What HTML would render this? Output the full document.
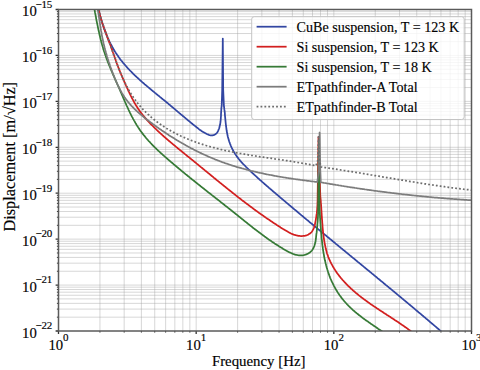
<!DOCTYPE html>
<html><head><meta charset="utf-8"><style>
html,body{margin:0;padding:0;background:#fff;width:480px;height:370px;overflow:hidden;}
svg{display:block;font-family:"Liberation Serif",serif;}
text{fill:#000;stroke:#000;stroke-width:0.15px;}
</style></head><body>
<svg width="480" height="370" viewBox="0 0 480 370">
<rect width="480" height="370" fill="#fff"/>
<path d="M58.50,317.17 H471.50 M58.50,309.09 H471.50 M58.50,303.35 H471.50 M58.50,298.90 H471.50 M58.50,295.26 H471.50 M58.50,292.19 H471.50 M58.50,289.52 H471.50 M58.50,287.17 H471.50 M58.50,285.07 H471.50 M58.50,271.25 H471.50 M58.50,263.16 H471.50 M58.50,257.42 H471.50 M58.50,252.97 H471.50 M58.50,249.33 H471.50 M58.50,246.26 H471.50 M58.50,243.59 H471.50 M58.50,241.24 H471.50 M58.50,239.14 H471.50 M58.50,225.32 H471.50 M58.50,217.23 H471.50 M58.50,211.49 H471.50 M58.50,207.04 H471.50 M58.50,203.40 H471.50 M58.50,200.33 H471.50 M58.50,197.67 H471.50 M58.50,195.32 H471.50 M58.50,193.21 H471.50 M58.50,179.39 H471.50 M58.50,171.30 H471.50 M58.50,165.56 H471.50 M58.50,161.11 H471.50 M58.50,157.47 H471.50 M58.50,154.40 H471.50 M58.50,151.74 H471.50 M58.50,149.39 H471.50 M58.50,147.29 H471.50 M58.50,133.46 H471.50 M58.50,125.37 H471.50 M58.50,119.63 H471.50 M58.50,115.18 H471.50 M58.50,111.55 H471.50 M58.50,108.47 H471.50 M58.50,105.81 H471.50 M58.50,103.46 H471.50 M58.50,101.36 H471.50 M58.50,87.53 H471.50 M58.50,79.44 H471.50 M58.50,73.71 H471.50 M58.50,69.25 H471.50 M58.50,65.62 H471.50 M58.50,62.54 H471.50 M58.50,59.88 H471.50 M58.50,57.53 H471.50 M58.50,55.43 H471.50 M58.50,41.60 H471.50 M58.50,33.52 H471.50 M58.50,27.78 H471.50 M58.50,23.33 H471.50 M58.50,19.69 H471.50 M58.50,16.61 H471.50 M58.50,13.95 H471.50 M58.50,11.60 H471.50" stroke="#a0a0a0" stroke-opacity="0.42" stroke-width="1" fill="none"/>
<path d="M99.94,9.50 V331.00 M124.18,9.50 V331.00 M141.38,9.50 V331.00 M154.72,9.50 V331.00 M165.63,9.50 V331.00 M174.84,9.50 V331.00 M182.83,9.50 V331.00 M189.87,9.50 V331.00 M196.17,9.50 V331.00 M237.61,9.50 V331.00 M261.85,9.50 V331.00 M279.05,9.50 V331.00 M292.39,9.50 V331.00 M303.29,9.50 V331.00 M312.51,9.50 V331.00 M320.49,9.50 V331.00 M327.53,9.50 V331.00 M333.83,9.50 V331.00 M375.28,9.50 V331.00 M399.52,9.50 V331.00 M416.72,9.50 V331.00 M430.06,9.50 V331.00 M440.96,9.50 V331.00 M450.18,9.50 V331.00 M458.16,9.50 V331.00 M465.20,9.50 V331.00" stroke="#a0a0a0" stroke-opacity="0.42" stroke-width="1" fill="none"/>
<defs><clipPath id="c"><rect x="58.50" y="9.50" width="413.00" height="321.50"/></clipPath></defs>
<g clip-path="url(#c)">
<path d="M98.5,9.5 98.7,10.4 99.0,11.4 99.2,12.4 99.5,13.3 99.7,14.3 100.0,15.2 100.2,16.2 100.5,17.2 100.8,18.1 101.1,19.1 101.4,20.1 101.7,21.0 102.0,22.0 102.3,23.0 102.6,23.9 102.9,24.9 103.2,25.8 103.5,26.8 103.9,27.8 104.2,28.7 104.5,29.7 104.9,30.6 105.3,31.6 105.6,32.5 106.0,33.4 106.4,34.4 106.8,35.3 107.1,36.3 107.5,37.2 107.9,38.1 108.4,39.0 108.8,40.0 109.2,40.9 109.6,41.8 110.1,42.7 110.5,43.6 111.0,44.5 111.5,45.4 111.9,46.3 112.4,47.1 112.9,48.0 113.4,48.9 113.9,49.8 114.4,50.6 114.9,51.5 115.5,52.3 116.0,53.2 116.6,54.0 117.1,54.8 117.7,55.6 118.3,56.5 118.8,57.3 119.4,58.1 120.0,58.9 120.6,59.7 121.2,60.5 121.9,61.2 122.5,62.0 123.1,62.8 123.8,63.6 124.4,64.3 125.1,65.1 125.7,65.8 126.4,66.6 127.1,67.3 127.7,68.1 128.4,68.8 129.1,69.5 129.8,70.3 130.5,71.0 131.2,71.7 131.9,72.4 132.6,73.1 133.3,73.9 134.1,74.6 134.8,75.3 135.5,76.0 136.2,76.6 137.0,77.3 137.7,78.0 138.5,78.7 139.2,79.4 140.0,80.1 140.7,80.8 141.5,81.4 142.2,82.1 143.0,82.8 143.8,83.4 144.5,84.1 145.3,84.8 146.1,85.4 146.9,86.1 147.6,86.7 148.4,87.4 149.2,88.0 150.0,88.7 150.8,89.3 151.5,90.0 152.3,90.6 153.1,91.3 153.9,91.9 154.7,92.6 155.5,93.2 156.2,93.9 157.0,94.5 157.8,95.1 158.6,95.8 159.4,96.4 160.2,97.1 161.0,97.7 161.7,98.3 162.5,99.0 163.3,99.6 164.1,100.2 164.9,100.9 165.6,101.5 166.4,102.2 167.2,102.8 168.0,103.4 168.7,104.1 169.5,104.7 170.3,105.4 171.0,106.0 171.8,106.6 172.5,107.3 173.3,107.9 174.1,108.6 174.8,109.2 175.6,109.9 176.4,110.5 177.1,111.1 177.9,111.8 178.6,112.4 179.4,113.1 180.2,113.7 180.9,114.4 181.7,115.0 182.5,115.6 183.2,116.3 184.0,116.9 184.8,117.6 185.5,118.2 186.3,118.9 187.1,119.5 187.8,120.1 188.6,120.8 189.4,121.4 190.2,122.1 190.9,122.7 191.7,123.3 192.5,124.0 193.3,124.6 194.1,125.3 194.9,125.9 195.7,126.5 196.5,127.2 197.3,127.8 198.1,128.4 198.9,129.1 199.7,129.7 200.6,130.3 201.4,130.9 202.3,131.4 203.2,132.0 204.1,132.5 205.0,133.0 205.9,133.5 206.8,134.0 207.8,134.4 208.7,134.8 209.7,135.1 210.6,135.3 211.6,135.4 212.5,135.4 213.3,135.2 214.2,135.0 214.9,134.6 215.7,134.1 216.3,133.5 217.0,132.8 217.5,132.0 218.0,131.1 218.4,130.2 218.8,129.2 219.2,128.2 219.5,127.1 219.7,126.1 220.0,125.1 220.2,124.1 220.3,123.1 220.5,122.0 220.6,121.0 220.7,120.0 220.8,119.0 220.8,118.0 220.9,117.0 221.0,116.0 221.0,115.0 221.0,114.0 221.1,113.0 221.1,112.0 221.2,111.0 221.3,110.0 221.3,109.0 221.4,108.0 221.5,107.0 221.7,106.1 222.2,90.0 222.8,38.6 223.2,90.0 223.9,106.0 224.1,107.0 224.2,108.0 224.3,108.9 224.4,109.9 224.6,110.9 224.7,111.9 224.8,112.9 224.9,113.9 224.9,114.9 225.0,115.9 225.1,116.9 225.2,117.9 225.3,118.9 225.4,119.9 225.5,120.9 225.6,122.0 225.7,123.0 225.8,124.0 225.9,125.0 226.0,126.0 226.2,127.0 226.3,128.0 226.4,129.0 226.6,130.0 226.7,131.0 226.9,132.0 227.1,133.0 227.3,134.0 227.5,135.0 227.7,136.0 227.9,137.0 228.2,137.9 228.5,138.9 228.7,139.9 229.0,140.8 229.3,141.8 229.7,142.7 230.0,143.6 230.4,144.6 230.7,145.5 231.1,146.4 231.5,147.3 231.9,148.2 232.4,149.1 232.8,150.0 233.3,150.8 233.8,151.7 234.3,152.5 234.8,153.4 235.3,154.2 235.9,155.0 236.4,155.8 237.0,156.6 237.6,157.4 238.2,158.2 238.8,159.0 239.5,159.8 240.1,160.6 240.8,161.3 241.4,162.1 242.1,162.8 242.8,163.6 243.5,164.3 244.2,165.0 244.9,165.7 245.6,166.5 246.3,167.2 247.0,167.9 247.8,168.6 248.5,169.3 249.2,170.0 250.0,170.7 250.7,171.4 251.4,172.1 252.2,172.8 252.9,173.5 253.7,174.2 254.4,174.9 255.2,175.5 255.9,176.2 256.7,176.9 257.4,177.6 258.1,178.3 258.9,178.9 259.6,179.6 260.4,180.3 261.2,180.9 261.9,181.6 262.7,182.3 263.4,182.9 264.2,183.6 264.9,184.3 265.7,184.9 266.4,185.6 267.2,186.2 268.0,186.9 268.7,187.6 269.5,188.2 270.2,188.9 271.0,189.5 271.8,190.2 272.5,190.8 273.3,191.5 274.0,192.1 274.8,192.8 275.6,193.4 276.3,194.1 277.1,194.7 277.9,195.4 278.6,196.0 279.4,196.7 280.1,197.3 280.9,198.0 281.7,198.6 282.4,199.3 283.2,199.9 284.0,200.6 284.7,201.2 285.5,201.9 286.3,202.5 287.0,203.1 287.8,203.8 288.6,204.4 289.3,205.1 290.1,205.7 290.9,206.4 291.6,207.0 292.4,207.7 293.2,208.3 293.9,209.0 294.7,209.6 295.5,210.2 296.3,210.9 297.0,211.5 297.8,212.2 298.6,212.8 299.3,213.5 300.1,214.1 300.9,214.8 301.6,215.4 302.4,216.0 303.2,216.7 303.9,217.3 304.7,218.0 305.5,218.6 306.3,219.3 307.0,219.9 307.8,220.5 308.6,221.2 309.3,221.8 310.1,222.5 310.9,223.1 311.7,223.7 312.4,224.4 313.2,225.0 314.0,225.7 314.8,226.3 315.5,226.9 316.3,227.6 317.1,228.2 317.8,228.9 318.6,229.5 319.4,230.2 320.2,230.8 320.9,231.4 321.7,232.1 322.5,232.7 323.3,233.4 324.0,234.0 324.8,234.6 325.6,235.3 326.4,235.9 327.1,236.6 327.9,237.2 328.7,237.8 329.5,238.5 330.2,239.1 331.0,239.7 331.8,240.4 332.5,241.0 333.3,241.7 334.1,242.3 334.9,242.9 335.6,243.6 336.4,244.2 337.2,244.9 338.0,245.5 338.7,246.1 339.5,246.8 340.3,247.4 341.1,248.1 341.9,248.7 342.6,249.3 343.4,250.0 344.2,250.6 345.0,251.2 345.7,251.9 346.5,252.5 347.3,253.2 348.1,253.8 348.8,254.4 349.6,255.1 350.4,255.7 351.2,256.4 351.9,257.0 352.7,257.6 353.5,258.3 354.3,258.9 355.0,259.5 355.8,260.2 356.6,260.8 357.4,261.5 358.1,262.1 358.9,262.7 359.7,263.4 360.5,264.0 361.2,264.6 362.0,265.3 362.8,265.9 363.6,266.6 364.3,267.2 365.1,267.8 365.9,268.5 366.7,269.1 367.4,269.8 368.2,270.4 369.0,271.0 369.8,271.7 370.6,272.3 371.3,272.9 372.1,273.6 372.9,274.2 373.7,274.9 374.4,275.5 375.2,276.1 376.0,276.8 376.8,277.4 377.5,278.1 378.3,278.7 379.1,279.3 379.9,280.0 380.6,280.6 381.4,281.3 382.2,281.9 383.0,282.5 383.7,283.2 384.5,283.8 385.3,284.5 386.0,285.1 386.8,285.7 387.6,286.4 388.4,287.0 389.1,287.7 389.9,288.3 390.7,288.9 391.5,289.6 392.2,290.2 393.0,290.9 393.8,291.5 394.6,292.2 395.3,292.8 396.1,293.4 396.9,294.1 397.6,294.7 398.4,295.4 399.2,296.0 400.0,296.6 400.7,297.3 401.5,297.9 402.3,298.6 403.1,299.2 403.8,299.9 404.6,300.5 405.4,301.1 406.1,301.8 406.9,302.4 407.7,303.1 408.4,303.7 409.2,304.4 410.0,305.0 410.8,305.7 411.5,306.3 412.3,306.9 413.1,307.6 413.8,308.2 414.6,308.9 415.4,309.5 416.1,310.2 416.9,310.8 417.7,311.5 418.4,312.1 419.2,312.8 420.0,313.4 420.8,314.0 421.5,314.7 422.3,315.3 423.1,316.0 423.8,316.6 424.6,317.3 425.4,317.9 426.1,318.6 426.9,319.2 427.7,319.9 428.4,320.5 429.2,321.2 429.9,321.8 430.7,322.5 431.5,323.1 432.2,323.8 433.0,324.4 433.8,325.1 434.5,325.7 435.3,326.4 436.1,327.0 436.8,327.7 437.6,328.3 438.4,329.0 439.1,329.6 439.9,330.3 440.6,330.9 441.4,331.6 442.2,332.3 442.9,332.9 443.7,333.6 444.4,334.2 445.2,334.9 446.0,335.5" fill="none" stroke="#3246a2" stroke-width="1.75" stroke-linejoin="round" />
<path d="M98.7,9.4 98.9,10.4 99.1,11.4 99.3,12.4 99.6,13.4 99.8,14.4 100.0,15.3 100.3,16.3 100.6,17.3 100.8,18.3 101.1,19.2 101.4,20.2 101.7,21.1 102.0,22.1 102.3,23.0 102.6,24.0 102.9,24.9 103.3,25.9 103.6,26.8 103.9,27.8 104.2,28.7 104.6,29.7 104.9,30.6 105.3,31.6 105.6,32.5 106.0,33.4 106.3,34.4 106.7,35.3 107.0,36.2 107.4,37.2 107.7,38.1 108.1,39.1 108.4,40.0 108.8,40.9 109.1,41.9 109.5,42.8 109.9,43.7 110.2,44.7 110.6,45.6 110.9,46.6 111.2,47.5 111.6,48.4 111.9,49.4 112.3,50.3 112.6,51.3 112.9,52.2 113.3,53.2 113.6,54.1 113.9,55.1 114.3,56.0 114.6,57.0 114.9,57.9 115.3,58.9 115.6,59.8 115.9,60.8 116.3,61.7 116.6,62.7 116.9,63.6 117.3,64.6 117.6,65.5 118.0,66.4 118.3,67.4 118.7,68.3 119.1,69.2 119.4,70.2 119.8,71.1 120.2,72.0 120.5,72.9 120.9,73.8 121.3,74.8 121.7,75.7 122.1,76.6 122.5,77.5 122.9,78.4 123.3,79.4 123.7,80.3 124.1,81.2 124.5,82.1 124.9,83.0 125.3,83.9 125.7,84.8 126.1,85.8 126.5,86.7 126.9,87.6 127.4,88.5 127.8,89.4 128.2,90.4 128.6,91.3 129.1,92.2 129.5,93.1 129.9,94.0 130.4,94.9 130.8,95.8 131.3,96.7 131.7,97.6 132.2,98.5 132.7,99.4 133.2,100.3 133.6,101.2 134.1,102.1 134.6,103.0 135.1,103.8 135.6,104.7 136.1,105.6 136.7,106.4 137.2,107.3 137.7,108.1 138.3,108.9 138.9,109.8 139.4,110.6 140.0,111.4 140.6,112.2 141.2,113.0 141.8,113.8 142.4,114.6 143.0,115.4 143.7,116.1 144.3,116.9 145.0,117.7 145.6,118.4 146.3,119.2 146.9,119.9 147.6,120.7 148.3,121.4 149.0,122.1 149.7,122.8 150.3,123.6 151.0,124.3 151.7,125.0 152.5,125.7 153.2,126.4 153.9,127.1 154.6,127.8 155.3,128.5 156.0,129.2 156.7,129.9 157.5,130.6 158.2,131.3 158.9,132.0 159.7,132.6 160.4,133.3 161.2,134.0 161.9,134.7 162.6,135.3 163.4,136.0 164.1,136.7 164.9,137.3 165.6,138.0 166.4,138.7 167.2,139.3 167.9,140.0 168.7,140.6 169.4,141.3 170.2,141.9 171.0,142.6 171.7,143.2 172.5,143.9 173.3,144.5 174.1,145.2 174.8,145.8 175.6,146.4 176.4,147.1 177.2,147.7 177.9,148.4 178.7,149.0 179.5,149.6 180.3,150.3 181.1,150.9 181.8,151.5 182.6,152.2 183.4,152.8 184.2,153.4 185.0,154.1 185.8,154.7 186.5,155.3 187.3,156.0 188.1,156.6 188.9,157.2 189.7,157.9 190.4,158.5 191.2,159.1 192.0,159.8 192.8,160.4 193.6,161.0 194.3,161.7 195.1,162.3 195.9,162.9 196.7,163.6 197.5,164.2 198.2,164.8 199.0,165.5 199.8,166.1 200.6,166.8 201.3,167.4 202.1,168.0 202.9,168.7 203.7,169.3 204.4,169.9 205.2,170.6 206.0,171.2 206.8,171.8 207.5,172.5 208.3,173.1 209.1,173.7 209.9,174.4 210.6,175.0 211.4,175.7 212.2,176.3 213.0,176.9 213.7,177.6 214.5,178.2 215.3,178.8 216.1,179.5 216.8,180.1 217.6,180.7 218.4,181.4 219.2,182.0 219.9,182.6 220.7,183.2 221.5,183.9 222.3,184.5 223.1,185.1 223.8,185.8 224.6,186.4 225.4,187.0 226.2,187.7 227.0,188.3 227.7,188.9 228.5,189.5 229.3,190.2 230.1,190.8 230.9,191.4 231.7,192.0 232.4,192.7 233.2,193.3 234.0,193.9 234.8,194.5 235.6,195.1 236.4,195.8 237.2,196.4 237.9,197.0 238.7,197.6 239.5,198.2 240.3,198.8 241.1,199.4 241.9,200.1 242.7,200.7 243.5,201.3 244.3,201.9 245.1,202.5 245.9,203.1 246.7,203.7 247.5,204.3 248.3,204.9 249.1,205.5 249.9,206.1 250.7,206.7 251.5,207.3 252.3,207.9 253.1,208.5 253.9,209.1 254.7,209.7 255.5,210.3 256.4,210.9 257.2,211.5 258.0,212.1 258.8,212.7 259.6,213.2 260.4,213.8 261.3,214.4 262.1,215.0 262.9,215.6 263.7,216.1 264.5,216.7 265.4,217.3 266.2,217.9 267.0,218.4 267.9,219.0 268.7,219.6 269.5,220.1 270.4,220.7 271.2,221.3 272.0,221.8 272.9,222.4 273.7,223.0 274.6,223.5 275.4,224.1 276.3,224.6 277.1,225.2 278.0,225.7 278.8,226.3 279.7,226.8 280.5,227.4 281.4,227.9 282.3,228.5 283.1,229.0 284.0,229.5 284.8,230.1 285.7,230.6 286.6,231.1 287.5,231.6 288.3,232.1 289.2,232.6 290.1,233.0 291.0,233.5 291.9,233.9 292.8,234.2 293.7,234.6 294.7,234.9 295.6,235.2 296.5,235.4 297.5,235.6 298.5,235.8 299.4,235.9 300.4,236.0 301.4,236.0 302.4,236.0 303.4,235.9 304.4,235.8 305.4,235.6 306.4,235.3 307.4,235.0 308.3,234.6 309.1,234.1 310.0,233.6 310.7,232.9 311.4,232.3 312.0,231.5 312.5,230.7 313.0,229.8 313.5,228.9 313.9,228.0 314.2,227.0 314.5,226.0 314.8,225.0 315.0,223.9 315.2,222.9 315.4,221.8 315.6,220.8 315.8,219.8 315.9,218.8 316.1,217.8 316.3,216.8 316.4,215.8 316.5,214.9 316.7,213.9 316.8,213.0 316.9,212.0 317.0,211.0 317.1,210.1 317.2,209.1 317.2,208.2 317.3,207.2 317.4,206.2 317.4,205.2 317.5,204.2 317.5,203.1 317.5,202.1 317.6,201.0 317.6,199.9 318.0,170.0 318.5,136.9 319.4,170.0 320.3,196.0 320.4,197.0 320.5,198.0 320.6,199.0 320.7,200.0 320.8,201.0 320.8,202.0 320.9,203.0 321.0,204.0 321.1,205.1 321.1,206.1 321.2,207.1 321.3,208.1 321.3,209.1 321.4,210.1 321.5,211.1 321.5,212.1 321.6,213.1 321.7,214.1 321.7,215.1 321.8,216.1 321.9,217.1 321.9,218.2 322.0,219.2 322.1,220.2 322.2,221.2 322.2,222.2 322.3,223.2 322.4,224.2 322.5,225.2 322.5,226.2 322.6,227.2 322.7,228.3 322.8,229.3 322.9,230.3 323.0,231.3 323.1,232.3 323.2,233.3 323.4,234.3 323.5,235.3 323.6,236.3 323.7,237.3 323.9,238.3 324.0,239.3 324.2,240.3 324.3,241.3 324.5,242.3 324.7,243.3 324.9,244.3 325.1,245.3 325.3,246.3 325.5,247.3 325.7,248.3 326.0,249.3 326.2,250.3 326.5,251.2 326.7,252.2 327.0,253.2 327.3,254.1 327.7,255.1 328.0,256.0 328.3,257.0 328.7,257.9 329.1,258.9 329.5,259.8 329.9,260.7 330.3,261.6 330.8,262.5 331.2,263.4 331.7,264.3 332.2,265.2 332.7,266.1 333.2,267.0 333.7,267.8 334.2,268.7 334.8,269.6 335.3,270.4 335.9,271.2 336.4,272.1 337.0,272.9 337.6,273.7 338.2,274.5 338.8,275.3 339.4,276.1 340.1,276.9 340.7,277.7 341.3,278.5 342.0,279.2 342.6,280.0 343.3,280.7 344.0,281.5 344.6,282.2 345.3,282.9 346.0,283.7 346.7,284.4 347.4,285.1 348.1,285.8 348.8,286.5 349.6,287.2 350.3,287.9 351.0,288.6 351.8,289.2 352.5,289.9 353.2,290.6 354.0,291.2 354.8,291.9 355.5,292.6 356.3,293.2 357.1,293.8 357.9,294.5 358.6,295.1 359.4,295.7 360.2,296.4 361.0,297.0 361.8,297.6 362.6,298.2 363.4,298.8 364.2,299.4 365.1,300.0 365.9,300.6 366.7,301.2 367.5,301.8 368.4,302.4 369.2,303.0 370.0,303.6 370.8,304.2 371.7,304.8 372.5,305.3 373.4,305.9 374.2,306.5 375.1,307.0 375.9,307.6 376.8,308.2 377.6,308.7 378.5,309.3 379.3,309.9 380.2,310.4 381.0,311.0 381.9,311.6 382.7,312.1 383.6,312.7 384.4,313.2 385.3,313.8 386.1,314.3 387.0,314.9 387.9,315.4 388.7,316.0 389.6,316.6 390.4,317.1 391.3,317.7 392.1,318.2 393.0,318.8 393.8,319.3 394.7,319.9 395.5,320.4 396.4,321.0 397.2,321.6 398.0,322.1 398.9,322.7 399.7,323.3 400.5,323.8 401.4,324.4 402.2,325.0 403.0,325.5 403.9,326.1 404.7,326.7 405.5,327.3 406.3,327.8 407.1,328.4 407.9,329.0 408.7,329.6 409.5,330.2 410.3,330.8 411.1,331.4 411.9,332.0 412.7,332.6 413.4,333.2 414.2,333.8 415.0,334.4 415.8,335.0" fill="none" stroke="#d21f1f" stroke-width="1.75" stroke-linejoin="round" />
<path d="M94.5,9.5 94.7,10.5 94.9,11.5 95.0,12.4 95.2,13.4 95.4,14.4 95.6,15.4 95.8,16.4 96.0,17.3 96.1,18.3 96.3,19.3 96.5,20.3 96.7,21.3 96.9,22.3 97.1,23.2 97.3,24.2 97.5,25.2 97.7,26.2 97.9,27.2 98.1,28.2 98.3,29.2 98.5,30.1 98.7,31.1 99.0,32.1 99.2,33.1 99.4,34.1 99.6,35.1 99.9,36.0 100.1,37.0 100.3,38.0 100.6,39.0 100.8,40.0 101.1,40.9 101.3,41.9 101.6,42.9 101.9,43.9 102.1,44.8 102.4,45.8 102.7,46.8 103.0,47.7 103.2,48.7 103.5,49.6 103.8,50.6 104.1,51.5 104.5,52.5 104.8,53.4 105.1,54.4 105.4,55.3 105.8,56.3 106.1,57.2 106.4,58.2 106.8,59.1 107.1,60.0 107.5,61.0 107.8,61.9 108.2,62.8 108.6,63.7 108.9,64.7 109.3,65.6 109.7,66.5 110.1,67.4 110.5,68.4 110.8,69.3 111.2,70.2 111.6,71.1 112.0,72.0 112.4,73.0 112.8,73.9 113.2,74.8 113.6,75.7 114.0,76.6 114.4,77.5 114.8,78.5 115.2,79.4 115.6,80.3 116.0,81.2 116.4,82.1 116.8,83.0 117.2,84.0 117.6,84.9 118.1,85.8 118.5,86.7 118.9,87.7 119.3,88.6 119.7,89.5 120.1,90.4 120.5,91.4 120.9,92.3 121.3,93.2 121.7,94.1 122.1,95.1 122.5,96.0 122.9,96.9 123.3,97.9 123.7,98.8 124.1,99.7 124.5,100.6 124.9,101.6 125.3,102.5 125.7,103.4 126.1,104.3 126.5,105.3 126.9,106.2 127.4,107.1 127.8,108.0 128.2,108.9 128.6,109.8 129.1,110.8 129.5,111.7 129.9,112.6 130.4,113.5 130.8,114.4 131.3,115.3 131.7,116.2 132.2,117.1 132.7,117.9 133.1,118.8 133.6,119.7 134.1,120.6 134.6,121.4 135.1,122.3 135.6,123.2 136.1,124.0 136.6,124.9 137.1,125.7 137.7,126.6 138.2,127.4 138.8,128.2 139.3,129.1 139.9,129.9 140.4,130.7 141.0,131.5 141.6,132.3 142.2,133.1 142.8,133.9 143.4,134.7 144.0,135.4 144.7,136.2 145.3,137.0 145.9,137.8 146.6,138.5 147.2,139.3 147.9,140.0 148.5,140.8 149.2,141.5 149.9,142.2 150.6,143.0 151.3,143.7 151.9,144.4 152.6,145.1 153.3,145.8 154.1,146.6 154.8,147.3 155.5,148.0 156.2,148.7 156.9,149.4 157.7,150.1 158.4,150.8 159.1,151.4 159.9,152.1 160.6,152.8 161.3,153.5 162.1,154.2 162.8,154.8 163.6,155.5 164.3,156.2 165.1,156.9 165.9,157.5 166.6,158.2 167.4,158.8 168.1,159.5 168.9,160.2 169.7,160.8 170.4,161.5 171.2,162.1 172.0,162.8 172.8,163.4 173.5,164.1 174.3,164.8 175.1,165.4 175.8,166.0 176.6,166.7 177.4,167.3 178.2,168.0 178.9,168.6 179.7,169.3 180.5,169.9 181.3,170.6 182.0,171.2 182.8,171.8 183.6,172.5 184.4,173.1 185.2,173.8 185.9,174.4 186.7,175.0 187.5,175.7 188.3,176.3 189.1,176.9 189.8,177.6 190.6,178.2 191.4,178.8 192.2,179.5 193.0,180.1 193.8,180.7 194.6,181.3 195.3,182.0 196.1,182.6 196.9,183.2 197.7,183.9 198.5,184.5 199.3,185.1 200.1,185.7 200.8,186.4 201.6,187.0 202.4,187.6 203.2,188.2 204.0,188.8 204.8,189.5 205.6,190.1 206.4,190.7 207.1,191.3 207.9,192.0 208.7,192.6 209.5,193.2 210.3,193.8 211.1,194.4 211.9,195.1 212.7,195.7 213.4,196.3 214.2,196.9 215.0,197.5 215.8,198.2 216.6,198.8 217.4,199.4 218.2,200.0 219.0,200.6 219.7,201.2 220.5,201.9 221.3,202.5 222.1,203.1 222.9,203.7 223.7,204.3 224.5,205.0 225.2,205.6 226.0,206.2 226.8,206.8 227.6,207.4 228.4,208.1 229.2,208.7 229.9,209.3 230.7,209.9 231.5,210.5 232.3,211.2 233.1,211.8 233.8,212.4 234.6,213.0 235.4,213.7 236.2,214.3 237.0,214.9 237.7,215.5 238.5,216.2 239.3,216.8 240.1,217.4 240.8,218.0 241.6,218.6 242.4,219.3 243.2,219.9 243.9,220.5 244.7,221.1 245.5,221.8 246.3,222.4 247.1,223.0 247.8,223.6 248.6,224.3 249.4,224.9 250.2,225.5 251.0,226.1 251.8,226.7 252.5,227.3 253.3,228.0 254.1,228.6 254.9,229.2 255.7,229.8 256.5,230.4 257.3,231.0 258.1,231.6 258.9,232.2 259.7,232.8 260.5,233.4 261.3,234.0 262.1,234.6 262.9,235.2 263.7,235.8 264.5,236.4 265.4,237.0 266.2,237.6 267.0,238.2 267.8,238.8 268.7,239.4 269.5,239.9 270.3,240.5 271.2,241.1 272.0,241.7 272.8,242.2 273.7,242.8 274.5,243.4 275.4,243.9 276.3,244.5 277.1,245.1 278.0,245.6 278.9,246.2 279.7,246.7 280.6,247.3 281.5,247.8 282.4,248.3 283.3,248.9 284.2,249.4 285.1,249.9 286.0,250.4 286.9,250.9 287.8,251.4 288.7,251.9 289.6,252.4 290.6,252.8 291.5,253.2 292.4,253.6 293.3,254.0 294.3,254.3 295.2,254.6 296.1,254.8 297.0,255.0 298.0,255.2 298.9,255.3 299.8,255.4 300.8,255.4 301.7,255.4 302.6,255.3 303.6,255.2 304.5,255.0 305.4,254.7 306.3,254.4 307.2,254.0 308.1,253.6 309.0,253.1 309.8,252.5 310.5,251.9 311.3,251.2 311.9,250.5 312.5,249.7 313.0,248.8 313.5,248.0 313.9,247.0 314.3,246.1 314.6,245.1 314.9,244.1 315.2,243.1 315.4,242.1 315.6,241.1 315.7,240.0 315.9,239.0 316.0,238.0 316.1,236.9 316.2,235.9 316.3,234.9 316.4,233.9 316.6,232.9 316.7,231.9 316.8,230.9 316.9,229.9 317.0,228.9 317.1,227.9 317.2,227.0 317.3,226.0 317.3,225.0 317.4,224.0 317.5,223.0 317.6,222.1 317.7,221.1 317.7,220.1 317.8,219.1 317.9,218.1 317.9,217.1 318.0,216.1 318.0,215.1 318.0,214.1 318.1,213.0 318.1,212.0 318.4,180.0 318.9,140.0 319.3,180.0 319.5,210.2 319.6,211.2 319.7,212.1 319.8,213.1 319.8,214.1 319.9,215.0 320.0,216.0 320.0,217.0 320.1,218.0 320.2,219.0 320.2,220.0 320.3,221.0 320.4,222.0 320.4,223.0 320.5,224.0 320.6,225.0 320.6,226.0 320.7,227.0 320.8,228.0 320.9,229.0 320.9,230.0 321.0,231.0 321.1,232.0 321.2,233.0 321.3,234.0 321.4,235.0 321.5,236.1 321.5,237.1 321.6,238.1 321.7,239.1 321.9,240.1 322.0,241.1 322.1,242.1 322.2,243.2 322.3,244.2 322.4,245.2 322.6,246.2 322.7,247.2 322.8,248.2 323.0,249.2 323.1,250.3 323.3,251.3 323.4,252.3 323.6,253.3 323.8,254.3 324.0,255.3 324.1,256.3 324.3,257.3 324.5,258.3 324.7,259.3 324.9,260.3 325.2,261.3 325.4,262.3 325.6,263.2 325.9,264.2 326.1,265.2 326.4,266.2 326.6,267.2 326.9,268.1 327.2,269.1 327.5,270.1 327.8,271.0 328.1,272.0 328.4,272.9 328.7,273.9 329.1,274.8 329.4,275.8 329.8,276.7 330.1,277.6 330.5,278.6 330.9,279.5 331.3,280.4 331.7,281.3 332.1,282.2 332.6,283.1 333.0,284.0 333.5,284.9 333.9,285.8 334.4,286.7 334.9,287.6 335.3,288.4 335.8,289.3 336.4,290.2 336.9,291.0 337.4,291.9 337.9,292.7 338.5,293.5 339.1,294.4 339.6,295.2 340.2,296.0 340.8,296.8 341.4,297.6 342.0,298.4 342.6,299.2 343.3,300.0 343.9,300.7 344.5,301.5 345.2,302.2 345.9,303.0 346.6,303.7 347.2,304.5 347.9,305.2 348.6,305.9 349.4,306.6 350.1,307.3 350.8,308.0 351.5,308.7 352.3,309.4 353.0,310.1 353.8,310.8 354.6,311.4 355.3,312.1 356.1,312.7 356.9,313.4 357.7,314.0 358.5,314.7 359.3,315.3 360.1,315.9 360.9,316.5 361.7,317.1 362.5,317.8 363.3,318.4 364.2,319.0 365.0,319.6 365.8,320.2 366.6,320.8 367.5,321.3 368.3,321.9 369.1,322.5 370.0,323.1 370.8,323.7 371.7,324.3 372.5,324.8 373.3,325.4 374.2,326.0 375.0,326.6 375.9,327.1 376.7,327.7 377.5,328.3 378.3,328.9 379.2,329.4 380.0,330.0 380.8,330.6 381.6,331.1 382.5,331.7 383.3,332.3 384.1,332.9 384.9,333.5 385.7,334.0 386.5,334.6 387.2,335.2 388.0,335.8" fill="none" stroke="#367a36" stroke-width="1.75" stroke-linejoin="round" />
<path d="M97.8,9.5 97.9,10.5 98.1,11.5 98.2,12.5 98.4,13.4 98.6,14.4 98.7,15.4 98.9,16.4 99.0,17.4 99.2,18.4 99.3,19.4 99.5,20.4 99.6,21.4 99.8,22.4 99.9,23.4 100.1,24.4 100.2,25.4 100.4,26.4 100.6,27.4 100.7,28.4 100.9,29.4 101.0,30.4 101.2,31.4 101.4,32.3 101.6,33.3 101.7,34.3 101.9,35.3 102.1,36.3 102.3,37.3 102.5,38.3 102.7,39.2 102.9,40.2 103.1,41.2 103.3,42.2 103.5,43.2 103.8,44.1 104.0,45.1 104.2,46.1 104.5,47.0 104.7,48.0 105.0,49.0 105.2,49.9 105.5,50.9 105.8,51.9 106.0,52.8 106.3,53.8 106.6,54.8 106.8,55.7 107.1,56.7 107.4,57.6 107.7,58.6 108.0,59.5 108.3,60.5 108.6,61.5 108.9,62.4 109.3,63.4 109.6,64.3 109.9,65.3 110.2,66.2 110.6,67.2 110.9,68.1 111.3,69.1 111.6,70.0 112.0,71.0 112.3,71.9 112.7,72.9 113.0,73.8 113.4,74.8 113.8,75.7 114.2,76.6 114.5,77.6 114.9,78.5 115.3,79.5 115.7,80.4 116.1,81.3 116.5,82.3 117.0,83.2 117.4,84.1 117.8,85.0 118.2,85.9 118.7,86.9 119.1,87.8 119.6,88.7 120.0,89.6 120.5,90.5 121.0,91.3 121.5,92.2 122.0,93.1 122.5,93.9 123.0,94.8 123.5,95.6 124.1,96.5 124.6,97.3 125.2,98.1 125.8,98.9 126.4,99.7 127.0,100.5 127.6,101.3 128.2,102.1 128.8,102.8 129.5,103.6 130.1,104.3 130.8,105.1 131.4,105.8 132.1,106.5 132.8,107.2 133.5,107.9 134.2,108.6 134.9,109.3 135.6,110.0 136.4,110.7 137.1,111.4 137.8,112.0 138.6,112.7 139.3,113.4 140.1,114.0 140.9,114.7 141.6,115.3 142.4,115.9 143.2,116.6 143.9,117.2 144.7,117.8 145.5,118.5 146.3,119.1 147.1,119.7 147.9,120.3 148.7,120.9 149.5,121.5 150.3,122.1 151.1,122.7 151.9,123.3 152.7,123.9 153.6,124.5 154.4,125.1 155.2,125.7 156.0,126.3 156.8,126.9 157.7,127.5 158.5,128.1 159.3,128.7 160.1,129.2 161.0,129.8 161.8,130.4 162.6,130.9 163.5,131.5 164.3,132.1 165.1,132.6 166.0,133.2 166.8,133.8 167.7,134.3 168.5,134.9 169.3,135.4 170.2,136.0 171.0,136.5 171.9,137.0 172.7,137.6 173.6,138.1 174.5,138.6 175.3,139.2 176.2,139.7 177.0,140.2 177.9,140.7 178.8,141.3 179.6,141.8 180.5,142.3 181.4,142.8 182.2,143.3 183.1,143.8 184.0,144.3 184.9,144.8 185.7,145.3 186.6,145.8 187.5,146.3 188.4,146.7 189.3,147.2 190.2,147.7 191.0,148.2 191.9,148.6 192.8,149.1 193.7,149.6 194.6,150.0 195.5,150.5 196.4,150.9 197.3,151.4 198.2,151.8 199.1,152.3 200.0,152.7 200.9,153.1 201.8,153.6 202.7,154.0 203.6,154.4 204.6,154.8 205.5,155.2 206.4,155.6 207.3,156.1 208.2,156.5 209.1,156.9 210.1,157.3 211.0,157.7 211.9,158.0 212.8,158.4 213.8,158.8 214.7,159.2 215.6,159.6 216.6,159.9 217.5,160.3 218.4,160.6 219.4,161.0 220.3,161.4 221.2,161.7 222.2,162.1 223.1,162.4 224.1,162.7 225.0,163.1 225.9,163.4 226.9,163.7 227.8,164.0 228.8,164.4 229.7,164.7 230.7,165.0 231.7,165.3 232.6,165.6 233.6,165.9 234.5,166.2 235.5,166.5 236.4,166.8 237.4,167.1 238.4,167.4 239.3,167.6 240.3,167.9 241.3,168.2 242.2,168.5 243.2,168.7 244.2,169.0 245.1,169.2 246.1,169.5 247.1,169.8 248.0,170.0 249.0,170.3 250.0,170.5 251.0,170.8 251.9,171.0 252.9,171.2 253.9,171.5 254.9,171.7 255.8,171.9 256.8,172.1 257.8,172.4 258.8,172.6 259.8,172.8 260.7,173.0 261.7,173.2 262.7,173.4 263.7,173.7 264.7,173.9 265.7,174.1 266.7,174.3 267.6,174.5 268.6,174.7 269.6,174.8 270.6,175.0 271.6,175.2 272.6,175.4 273.6,175.6 274.6,175.8 275.6,176.0 276.5,176.1 277.5,176.3 278.5,176.5 279.5,176.7 280.5,176.8 281.5,177.0 282.5,177.2 283.5,177.3 284.5,177.5 285.5,177.6 286.5,177.8 287.5,178.0 288.5,178.1 289.5,178.3 290.5,178.4 291.5,178.6 292.4,178.7 293.4,178.9 294.4,179.0 295.4,179.2 296.4,179.3 297.4,179.4 298.4,179.6 299.4,179.7 300.4,179.9 301.4,180.0 302.4,180.1 303.4,180.3 304.4,180.4 305.4,180.5 306.4,180.6 307.4,180.8 308.4,180.9 309.4,181.0 310.4,181.2 311.3,181.3 312.3,181.4 313.3,181.5 314.3,181.6 315.3,181.8 316.3,181.9 317.3,182.0 318.9,170.0 319.6,132.5 320.3,170.0 320.8,182.3 321.8,182.5 322.8,182.7 323.8,182.9 324.8,183.0 325.8,183.2 326.8,183.4 327.8,183.5 328.8,183.7 329.8,183.9 330.8,184.1 331.8,184.2 332.8,184.4 333.8,184.6 334.8,184.7 335.8,184.9 336.8,185.0 337.8,185.2 338.8,185.4 339.8,185.5 340.8,185.7 341.8,185.9 342.8,186.0 343.8,186.2 344.8,186.3 345.8,186.5 346.8,186.6 347.8,186.8 348.8,187.0 349.8,187.1 350.8,187.3 351.8,187.4 352.8,187.6 353.8,187.7 354.8,187.9 355.8,188.0 356.8,188.2 357.8,188.3 358.8,188.5 359.8,188.6 360.8,188.8 361.8,188.9 362.8,189.1 363.8,189.2 364.8,189.4 365.8,189.5 366.8,189.6 367.8,189.8 368.8,189.9 369.8,190.1 370.8,190.2 371.8,190.3 372.8,190.5 373.8,190.6 374.8,190.8 375.8,190.9 376.8,191.0 377.8,191.2 378.8,191.3 379.8,191.4 380.8,191.6 381.8,191.7 382.8,191.8 383.8,191.9 384.9,192.1 385.9,192.2 386.9,192.3 387.9,192.5 388.9,192.6 389.9,192.7 390.9,192.8 391.9,193.0 392.9,193.1 393.9,193.2 394.9,193.3 395.9,193.4 396.9,193.6 397.9,193.7 398.9,193.8 399.9,193.9 400.9,194.0 401.9,194.2 402.9,194.3 403.9,194.4 405.0,194.5 406.0,194.6 407.0,194.7 408.0,194.8 409.0,194.9 410.0,195.1 411.0,195.2 412.0,195.3 413.0,195.4 414.0,195.5 415.0,195.6 416.0,195.7 417.0,195.8 418.0,195.9 419.0,196.0 420.0,196.1 421.1,196.2 422.1,196.3 423.1,196.4 424.1,196.5 425.1,196.6 426.1,196.7 427.1,196.8 428.1,196.9 429.1,197.0 430.1,197.1 431.1,197.2 432.1,197.3 433.1,197.4 434.2,197.5 435.2,197.5 436.2,197.6 437.2,197.7 438.2,197.8 439.2,197.9 440.2,198.0 441.2,198.1 442.2,198.1 443.2,198.2 444.2,198.3 445.2,198.4 446.3,198.5 447.3,198.6 448.3,198.6 449.3,198.7 450.3,198.8 451.3,198.9 452.3,198.9 453.3,199.0 454.3,199.1 455.3,199.2 456.4,199.2 457.4,199.3 458.4,199.4 459.4,199.4 460.4,199.5 461.4,199.6 462.4,199.6 463.4,199.7 464.4,199.8 465.4,199.8 466.5,199.9 467.5,200.0 468.5,200.0 469.5,200.1 470.5,200.1 471.5,200.2" fill="none" stroke="#7c7c7c" stroke-width="1.75" stroke-linejoin="round" />
<path d="M98.4,9.5 98.7,10.5 99.0,11.5 99.2,12.4 99.5,13.4 99.8,14.4 100.1,15.3 100.4,16.3 100.7,17.3 101.0,18.2 101.3,19.2 101.6,20.1 101.9,21.1 102.2,22.0 102.5,23.0 102.8,24.0 103.1,24.9 103.5,25.9 103.8,26.8 104.1,27.8 104.4,28.7 104.8,29.7 105.1,30.6 105.4,31.5 105.8,32.5 106.1,33.4 106.4,34.4 106.8,35.3 107.1,36.3 107.4,37.2 107.8,38.2 108.1,39.1 108.5,40.1 108.8,41.0 109.1,42.0 109.5,42.9 109.8,43.8 110.1,44.8 110.5,45.7 110.8,46.7 111.2,47.6 111.5,48.6 111.8,49.5 112.2,50.5 112.5,51.4 112.8,52.4 113.2,53.3 113.5,54.3 113.8,55.2 114.2,56.2 114.5,57.1 114.8,58.1 115.2,59.0 115.5,60.0 115.9,60.9 116.2,61.9 116.6,62.8 116.9,63.7 117.3,64.7 117.6,65.6 118.0,66.6 118.3,67.5 118.7,68.4 119.1,69.4 119.4,70.3 119.8,71.2 120.2,72.2 120.6,73.1 121.0,74.0 121.4,75.0 121.8,75.9 122.2,76.8 122.6,77.7 123.0,78.6 123.4,79.5 123.8,80.4 124.3,81.4 124.7,82.3 125.2,83.2 125.6,84.1 126.1,85.0 126.5,85.8 127.0,86.7 127.5,87.6 127.9,88.5 128.4,89.4 128.9,90.2 129.4,91.1 129.9,92.0 130.5,92.8 131.0,93.7 131.5,94.5 132.1,95.4 132.6,96.2 133.2,97.1 133.7,97.9 134.3,98.7 134.9,99.5 135.5,100.3 136.1,101.1 136.7,101.9 137.3,102.7 137.9,103.5 138.5,104.3 139.2,105.1 139.8,105.8 140.5,106.6 141.1,107.4 141.8,108.1 142.5,108.8 143.2,109.6 143.9,110.3 144.6,111.0 145.3,111.7 146.0,112.5 146.7,113.2 147.5,113.8 148.2,114.5 149.0,115.2 149.7,115.9 150.5,116.5 151.2,117.2 152.0,117.9 152.8,118.5 153.6,119.1 154.3,119.8 155.1,120.4 155.9,121.0 156.7,121.6 157.5,122.2 158.4,122.8 159.2,123.4 160.0,124.0 160.8,124.6 161.6,125.1 162.5,125.7 163.3,126.2 164.2,126.8 165.0,127.3 165.9,127.9 166.7,128.4 167.6,128.9 168.4,129.4 169.3,129.9 170.2,130.4 171.0,130.9 171.9,131.4 172.8,131.9 173.7,132.4 174.6,132.8 175.4,133.3 176.3,133.8 177.2,134.2 178.1,134.7 179.0,135.1 179.9,135.5 180.8,136.0 181.8,136.4 182.7,136.8 183.6,137.2 184.5,137.6 185.4,138.0 186.4,138.4 187.3,138.8 188.2,139.2 189.1,139.6 190.1,139.9 191.0,140.3 191.9,140.7 192.9,141.0 193.8,141.4 194.8,141.7 195.7,142.1 196.7,142.4 197.6,142.7 198.6,143.1 199.5,143.4 200.5,143.7 201.4,144.0 202.4,144.3 203.4,144.6 204.3,144.9 205.3,145.2 206.2,145.5 207.2,145.8 208.2,146.1 209.2,146.4 210.1,146.7 211.1,146.9 212.1,147.2 213.0,147.5 214.0,147.7 215.0,148.0 216.0,148.2 216.9,148.5 217.9,148.7 218.9,149.0 219.9,149.2 220.8,149.5 221.8,149.7 222.8,149.9 223.8,150.1 224.8,150.4 225.7,150.6 226.7,150.8 227.7,151.0 228.7,151.2 229.7,151.4 230.7,151.6 231.6,151.8 232.6,152.0 233.6,152.2 234.6,152.4 235.6,152.6 236.6,152.8 237.6,153.0 238.5,153.2 239.5,153.3 240.5,153.5 241.5,153.7 242.5,153.9 243.5,154.0 244.5,154.2 245.5,154.4 246.5,154.6 247.5,154.7 248.4,154.9 249.4,155.1 250.4,155.2 251.4,155.4 252.4,155.5 253.4,155.7 254.4,155.8 255.4,156.0 256.4,156.2 257.4,156.3 258.4,156.5 259.4,156.6 260.4,156.8 261.4,156.9 262.4,157.1 263.3,157.2 264.3,157.4 265.3,157.5 266.3,157.6 267.3,157.8 268.3,157.9 269.3,158.1 270.3,158.2 271.3,158.4 272.3,158.5 273.3,158.7 274.3,158.8 275.3,159.0 276.3,159.1 277.3,159.3 278.3,159.4 279.3,159.5 280.3,159.7 281.3,159.8 282.3,160.0 283.3,160.1 284.3,160.3 285.2,160.4 286.2,160.6 287.2,160.7 288.2,160.9 289.2,161.0 290.2,161.2 291.2,161.4 292.2,161.5 293.2,161.7 294.2,161.8 295.2,162.0 296.2,162.2 297.2,162.3 298.2,162.5 299.2,162.7 300.1,162.8 301.1,163.0 302.1,163.2 303.1,163.3 304.1,163.5 305.1,163.7 306.1,163.9 307.1,164.1 308.1,164.3 309.1,164.4 310.0,164.6 311.0,164.8 312.0,165.0 313.0,165.2 314.0,165.4 315.0,165.6 316.0,165.8 317.9,160.0 318.5,136.9 319.4,160.0 321.0,167.0 322.0,167.1 323.0,167.3 324.0,167.4 325.0,167.6 326.0,167.7 327.0,167.9 328.0,168.0 329.0,168.1 330.0,168.3 331.0,168.4 332.0,168.6 333.0,168.7 334.0,168.9 335.0,169.1 336.0,169.2 337.0,169.4 338.0,169.5 339.0,169.7 340.0,169.8 340.9,170.0 341.9,170.1 342.9,170.3 343.9,170.5 344.9,170.6 345.9,170.8 346.9,170.9 347.9,171.1 348.9,171.3 349.9,171.4 350.9,171.6 351.9,171.7 352.9,171.9 353.9,172.1 354.9,172.2 355.9,172.4 356.9,172.6 357.9,172.7 358.9,172.9 359.9,173.0 360.9,173.2 361.9,173.4 362.8,173.5 363.8,173.7 364.8,173.9 365.8,174.0 366.8,174.2 367.8,174.4 368.8,174.5 369.8,174.7 370.8,174.9 371.8,175.0 372.8,175.2 373.8,175.4 374.8,175.6 375.8,175.7 376.8,175.9 377.8,176.1 378.8,176.2 379.8,176.4 380.7,176.6 381.7,176.7 382.7,176.9 383.7,177.1 384.7,177.2 385.7,177.4 386.7,177.6 387.7,177.7 388.7,177.9 389.7,178.1 390.7,178.2 391.7,178.4 392.7,178.6 393.7,178.7 394.7,178.9 395.7,179.1 396.7,179.2 397.7,179.4 398.6,179.6 399.6,179.7 400.6,179.9 401.6,180.1 402.6,180.2 403.6,180.4 404.6,180.6 405.6,180.7 406.6,180.9 407.6,181.1 408.6,181.2 409.6,181.4 410.6,181.6 411.6,181.7 412.6,181.9 413.6,182.0 414.6,182.2 415.6,182.4 416.6,182.5 417.6,182.7 418.6,182.8 419.5,183.0 420.5,183.1 421.5,183.3 422.5,183.5 423.5,183.6 424.5,183.8 425.5,183.9 426.5,184.1 427.5,184.2 428.5,184.4 429.5,184.5 430.5,184.7 431.5,184.8 432.5,185.0 433.5,185.1 434.5,185.3 435.5,185.4 436.5,185.6 437.5,185.7 438.5,185.9 439.5,186.0 440.5,186.1 441.5,186.3 442.5,186.4 443.5,186.6 444.5,186.7 445.5,186.8 446.5,187.0 447.5,187.1 448.5,187.3 449.5,187.4 450.5,187.5 451.5,187.7 452.5,187.8 453.5,187.9 454.5,188.0 455.5,188.2 456.5,188.3 457.5,188.4 458.5,188.6 459.5,188.7 460.5,188.8 461.5,188.9 462.5,189.0 463.5,189.2 464.5,189.3 465.5,189.4 466.5,189.5 467.5,189.6 468.5,189.7 469.5,189.8 470.5,190.0 471.5,190.1" fill="none" stroke="#6c6c6c" stroke-width="1.75" stroke-linejoin="round" stroke-dasharray="1.8 2.1"/>
</g>
<path d="M99.94,331.00 v1.6 M124.18,331.00 v1.6 M141.38,331.00 v1.6 M154.72,331.00 v1.6 M165.63,331.00 v1.6 M174.84,331.00 v1.6 M182.83,331.00 v1.6 M189.87,331.00 v1.6 M237.61,331.00 v1.6 M261.85,331.00 v1.6 M279.05,331.00 v1.6 M292.39,331.00 v1.6 M303.29,331.00 v1.6 M312.51,331.00 v1.6 M320.49,331.00 v1.6 M327.53,331.00 v1.6 M375.28,331.00 v1.6 M399.52,331.00 v1.6 M416.72,331.00 v1.6 M430.06,331.00 v1.6 M440.96,331.00 v1.6 M450.18,331.00 v1.6 M458.16,331.00 v1.6 M465.20,331.00 v1.6 M58.50,317.17 h-1.6 M58.50,309.09 h-1.6 M58.50,303.35 h-1.6 M58.50,298.90 h-1.6 M58.50,295.26 h-1.6 M58.50,292.19 h-1.6 M58.50,289.52 h-1.6 M58.50,287.17 h-1.6 M58.50,271.25 h-1.6 M58.50,263.16 h-1.6 M58.50,257.42 h-1.6 M58.50,252.97 h-1.6 M58.50,249.33 h-1.6 M58.50,246.26 h-1.6 M58.50,243.59 h-1.6 M58.50,241.24 h-1.6 M58.50,225.32 h-1.6 M58.50,217.23 h-1.6 M58.50,211.49 h-1.6 M58.50,207.04 h-1.6 M58.50,203.40 h-1.6 M58.50,200.33 h-1.6 M58.50,197.67 h-1.6 M58.50,195.32 h-1.6 M58.50,179.39 h-1.6 M58.50,171.30 h-1.6 M58.50,165.56 h-1.6 M58.50,161.11 h-1.6 M58.50,157.47 h-1.6 M58.50,154.40 h-1.6 M58.50,151.74 h-1.6 M58.50,149.39 h-1.6 M58.50,133.46 h-1.6 M58.50,125.37 h-1.6 M58.50,119.63 h-1.6 M58.50,115.18 h-1.6 M58.50,111.55 h-1.6 M58.50,108.47 h-1.6 M58.50,105.81 h-1.6 M58.50,103.46 h-1.6 M58.50,87.53 h-1.6 M58.50,79.44 h-1.6 M58.50,73.71 h-1.6 M58.50,69.25 h-1.6 M58.50,65.62 h-1.6 M58.50,62.54 h-1.6 M58.50,59.88 h-1.6 M58.50,57.53 h-1.6 M58.50,41.60 h-1.6 M58.50,33.52 h-1.6 M58.50,27.78 h-1.6 M58.50,23.33 h-1.6 M58.50,19.69 h-1.6 M58.50,16.61 h-1.6 M58.50,13.95 h-1.6 M58.50,11.60 h-1.6" stroke="#222" stroke-width="0.9" fill="none"/>
<path d="M58.50,331.00 v2.9 M196.17,331.00 v2.9 M333.83,331.00 v2.9 M471.50,331.00 v2.9 M58.50,331.00 h-2.9 M58.50,285.07 h-2.9 M58.50,239.14 h-2.9 M58.50,193.21 h-2.9 M58.50,147.29 h-2.9 M58.50,101.36 h-2.9 M58.50,55.43 h-2.9 M58.50,9.50 h-2.9" stroke="#333" stroke-width="1.3" fill="none"/>
<rect x="58.50" y="9.50" width="413.00" height="321.50" fill="none" stroke="#5a5a5a" stroke-width="1.5"/>
<rect x="251.70" y="16.70" width="212.50" height="102.80" rx="2.5" fill="#fff" fill-opacity="0.8" stroke="#c4c4c4" stroke-width="1"/>
<path d="M256.6,26.70 H286.6" stroke="#3246a2" stroke-width="1.75" />
<text x="296.6" y="32.20" font-family="Liberation Serif" font-size="14.1" fill="#000">CuBe suspension, T = 123 K</text>
<path d="M256.6,46.70 H286.6" stroke="#d21f1f" stroke-width="1.75" />
<text x="296.6" y="52.20" font-family="Liberation Serif" font-size="14.1" fill="#000">Si suspension, T = 123 K</text>
<path d="M256.6,66.70 H286.6" stroke="#367a36" stroke-width="1.75" />
<text x="296.6" y="72.20" font-family="Liberation Serif" font-size="14.1" fill="#000">Si suspension, T = 18 K</text>
<path d="M256.6,86.70 H286.6" stroke="#7c7c7c" stroke-width="1.75" />
<text x="296.6" y="92.20" font-family="Liberation Serif" font-size="14.1" fill="#000">ETpathfinder-A Total</text>
<path d="M256.6,106.70 H286.6" stroke="#6c6c6c" stroke-width="1.75" stroke-dasharray="1.8 2.1"/>
<text x="296.6" y="112.20" font-family="Liberation Serif" font-size="14.1" fill="#000">ETpathfinder-B Total</text>
<text x="22.1" y="16.20" font-size="14.7">10</text><text x="35.6" y="7.80" font-size="11" letter-spacing="-0.3">−15</text>
<text x="22.1" y="62.13" font-size="14.7">10</text><text x="35.6" y="53.73" font-size="11" letter-spacing="-0.3">−16</text>
<text x="22.1" y="108.06" font-size="14.7">10</text><text x="35.6" y="99.66" font-size="11" letter-spacing="-0.3">−17</text>
<text x="22.1" y="153.99" font-size="14.7">10</text><text x="35.6" y="145.59" font-size="11" letter-spacing="-0.3">−18</text>
<text x="22.1" y="199.91" font-size="14.7">10</text><text x="35.6" y="191.51" font-size="11" letter-spacing="-0.3">−19</text>
<text x="22.1" y="245.84" font-size="14.7">10</text><text x="35.6" y="237.44" font-size="11" letter-spacing="-0.3">−20</text>
<text x="22.1" y="291.77" font-size="14.7">10</text><text x="35.6" y="283.37" font-size="11" letter-spacing="-0.3">−21</text>
<text x="22.1" y="337.70" font-size="14.7">10</text><text x="35.6" y="329.30" font-size="11" letter-spacing="-0.3">−22</text>
<text x="58.50" y="350" font-family="Liberation Serif" font-size="14.7" fill="#000" text-anchor="middle">10<tspan font-size="11" dy="-9.4">0</tspan></text>
<text x="196.17" y="350" font-family="Liberation Serif" font-size="14.7" fill="#000" text-anchor="middle">10<tspan font-size="11" dy="-9.4">1</tspan></text>
<text x="333.83" y="350" font-family="Liberation Serif" font-size="14.7" fill="#000" text-anchor="middle">10<tspan font-size="11" dy="-9.4">2</tspan></text>
<text x="471.50" y="350" font-family="Liberation Serif" font-size="14.7" fill="#000" text-anchor="middle">10<tspan font-size="11" dy="-9.4">3</tspan></text>
<text x="211.9" y="365.9" font-size="14.85">Frequency [Hz]</text>
<text transform="translate(14.8,231.5) rotate(-90)" x="0" y="0" font-family="Liberation Serif" font-size="16.3" fill="#000">Displacement [m/√Hz]</text>
</svg>
</body></html>
